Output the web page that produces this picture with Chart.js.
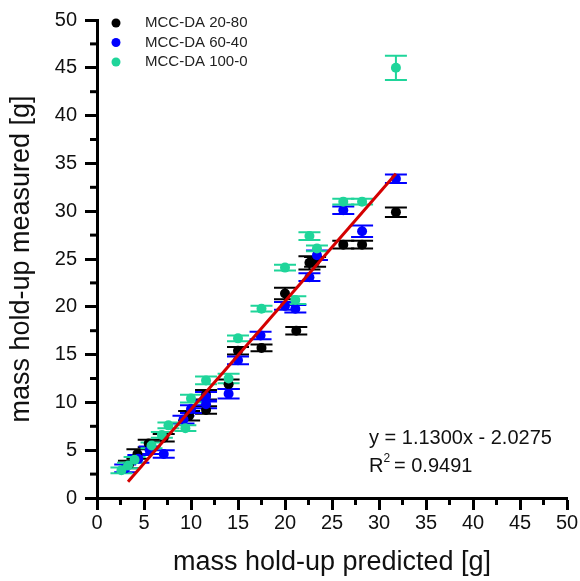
<!DOCTYPE html>
<html>
<head>
<meta charset="utf-8">
<script src="https://cdn.jsdelivr.net/npm/chart.js@4.4.1/dist/chart.umd.min.js"></script>
<style>
  html, body { margin: 0; padding: 0; background: #fff; }
  #wrap { width: 580px; height: 581px; position: relative; }
</style>
</head>
<body>
<div id="wrap"><canvas id="chart"></canvas></div>
<script>
/* data */
const labels = ['MCC-DA 20-80', 'MCC-DA 60-40', 'MCC-DA 100-0'];
const colors = ['#000000', '#0000ff', '#1fd59a'];

const blackX   = [31.8, 28.2, 26.2, 23.2, 22.6, 20.0, 21.2, 17.5, 15.0, 14.0, 11.6, 11.6, 9.8, 7.1, 5.5, 4.3, 3.4];
const blackY   = [29.9, 26.5, 26.5, 24.7, 24.6, 21.4, 17.5, 15.7, 15.4, 11.9, 10.8, 9.2, 8.6, 6.3, 5.7, 4.6, 3.5];
const blackErr = [0.5, 0.4, 0.4, 0.5, 0.7, 0.6, 0.4, 0.35, 0.4, 0.5, 0.5, 0.4, 0.5, 0.4, 0.4, 0.5, 0.4];

const blueX    = [31.8, 26.2, 28.2, 23.4, 22.6, 20.0, 21.1, 17.4, 15.0, 14.0, 11.6, 10.0, 11.6, 9.2, 7.1, 5.6, 4.4, 3.0];
const blueY    = [33.4, 30.1, 27.9, 25.4, 23.1, 20.1, 19.8, 17.0, 14.4, 10.9, 10.6, 9.3, 9.8, 8.2, 4.6, 5.0, 4.1, 3.1];
const blueErr  = [0.45, 0.4, 0.6, 0.5, 0.4, 0.4, 0.4, 0.4, 0.4, 0.5, 0.5, 0.4, 0.4, 0.4, 0.4, 0.4, 0.4, 0.4];

const greenX   = [31.8, 26.2, 28.2, 22.6, 23.4, 20.0, 21.1, 17.5, 15.0, 14.0, 11.6, 10.0, 9.4, 7.6, 6.9, 5.8, 4.0, 3.3, 2.6];
const greenY   = [45.0, 31.0, 31.0, 27.4, 26.1, 24.1, 20.7, 19.8, 16.7, 12.5, 12.3, 10.4, 7.3, 7.6, 6.6, 5.5, 4.0, 3.4, 2.9];
const greenErr = [1.27, 0.3, 0.3, 0.4, 0.3, 0.3, 0.4, 0.3, 0.3, 0.5, 0.4, 0.4, 0.3, 0.3, 0.3, 0.3, 0.3, 0.3, 0.3];

const fitSlope = 1.13;
const fitIntercept = -2.0275;
const fitRange = [3.3, 31.8];
const fitText = ['y = 1.1300x - 2.0275', '0.9491'];

const xTicks = [0, 5, 10, 15, 20, 25, 30, 35, 40, 45, 50];
const yTicks = [0, 5, 10, 15, 20, 25, 30, 35, 40, 45, 50];

const FONT = 'Arial, "Liberation Sans", sans-serif';

const toPts = (xs, ys) => xs.map((x, i) => ({ x, y: ys[i] }));
const errs = [blackErr, blueErr, greenErr];

// vertical error bars with caps, drawn under the points
const errorBars = {
  id: 'errorBars',
  beforeDatasetsDraw(chart) {
    const { ctx, scales: { x, y } } = chart;
    ctx.save();
    ctx.lineWidth = 2;
    [0, 1, 2].forEach(di => {
      ctx.strokeStyle = colors[di];
      chart.data.datasets[di].data.forEach((p, i) => {
        const e = errs[di][i];
        const px = x.getPixelForValue(p.x);
        const top = y.getPixelForValue(p.y + e);
        const bot = y.getPixelForValue(p.y - e);
        ctx.beginPath();
        ctx.moveTo(px, top); ctx.lineTo(px, bot);
        ctx.moveTo(px - 11, top); ctx.lineTo(px + 11, top);
        ctx.moveTo(px - 11, bot); ctx.lineTo(px + 11, bot);
        ctx.stroke();
      });
    });
    ctx.restore();
  }
};

// minor ticks, legend and fit text
const extras = {
  id: 'extras',
  afterDraw(chart) {
    const { ctx, scales: { x, y }, chartArea } = chart;
    ctx.save();
    ctx.strokeStyle = '#000';
    ctx.lineWidth = 3;
    for (let i = 0; i < xTicks.length - 1; i++) {
      const px = x.getPixelForValue((xTicks[i] + xTicks[i + 1]) / 2);
      ctx.beginPath(); ctx.moveTo(px, chartArea.bottom); ctx.lineTo(px, chartArea.bottom + 7); ctx.stroke();
    }
    for (let i = 0; i < yTicks.length - 1; i++) {
      const py = y.getPixelForValue((yTicks[i] + yTicks[i + 1]) / 2);
      ctx.beginPath(); ctx.moveTo(chartArea.left, py); ctx.lineTo(chartArea.left - 7, py); ctx.stroke();
    }

    // legend
    ctx.font = '15px ' + FONT;
    ctx.textBaseline = 'middle';
    labels.forEach((lab, i) => {
      const ly = 23 + i * 19.5;
      ctx.fillStyle = colors[i];
      ctx.beginPath(); ctx.arc(116, ly, 4.5, 0, Math.PI * 2); ctx.fill();
      ctx.fillStyle = '#222';
      ctx.fillText(lab, 145, ly);
    });

    // fit equation
    ctx.fillStyle = '#111';
    ctx.font = '20px ' + FONT;
    ctx.textBaseline = 'alphabetic';
    ctx.fillText(fitText[0], 369, 444);
    ctx.fillText('R', 369, 472);
    const rw = ctx.measureText('R').width;
    ctx.font = '12px ' + FONT;
    ctx.fillText('2', 369 + rw, 462);
    ctx.font = '20px ' + FONT;
    ctx.fillText(' = ' + fitText[1], 369 + rw + 5, 472);
    ctx.restore();
  }
};

new Chart(document.getElementById('chart'), {
  type: 'scatter',
  data: {
    datasets: [
      ...[0, 1, 2].map(i => ({
        label: labels[i],
        data: toPts([blackX, blueX, greenX][i], [blackY, blueY, greenY][i]),
        backgroundColor: colors[i],
        borderColor: colors[i],
        pointRadius: 5,
        pointBorderWidth: 0,
        order: 3 - i
      })),
      {
        label: 'fit',
        type: 'line',
        data: fitRange.map(v => ({ x: v, y: fitSlope * v + fitIntercept })),
        borderColor: '#d40000',
        borderWidth: 3,
        pointRadius: 0,
        order: 0
      }
    ]
  },
  options: {
    responsive: true,
    maintainAspectRatio: false,
    animation: false,
    layout: { padding: { top: 18, right: 13, left: 0, bottom: 0 } },
    plugins: {
      legend: { display: false },
      tooltip: { enabled: false }
    },
    scales: {
      x: {
        type: 'linear',
        min: 0, max: 50,
        afterBuildTicks: s => { s.ticks = xTicks.map(v => ({ value: v })); },
        afterFit: s => { s.height = 83; },
        border: { display: true, color: '#000', width: 3 },
        grid: { drawOnChartArea: false, drawTicks: true, tickLength: 12, tickWidth: 3, tickColor: '#000' },
        ticks: { color: '#111', font: { size: 20, family: FONT }, padding: 1, maxRotation: 0 },
        title: { display: true, text: 'mass hold-up predicted [g]', color: '#111', font: { size: 27, family: FONT }, padding: { top: 0, bottom: 2 } }
      },
      y: {
        type: 'linear',
        min: 0, max: 50,
        afterBuildTicks: s => { s.ticks = yTicks.map(v => ({ value: v })); },
        afterFit: s => { s.width = 97; },
        border: { display: true, color: '#000', width: 3 },
        grid: { drawOnChartArea: false, drawTicks: true, tickLength: 12, tickWidth: 3, tickColor: '#000' },
        ticks: { color: '#111', font: { size: 20, family: FONT }, padding: 8 },
        title: { display: true, text: 'mass hold-up measured [g]', color: '#111', font: { size: 27, family: FONT }, padding: { top: 5, bottom: 0 } }
      }
    }
  },
  plugins: [errorBars, extras]
});
</script>
</body>
</html>
